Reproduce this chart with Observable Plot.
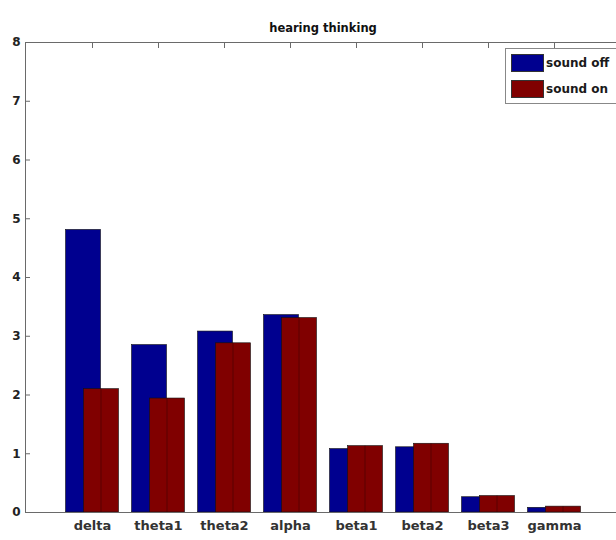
<!DOCTYPE html>
<html>
<head>
<meta charset="utf-8">
<script src="https://cdn.jsdelivr.net/npm/d3@7"></script>
<script src="https://cdn.jsdelivr.net/npm/@observablehq/plot@0.6"></script>
<style>
  body { margin: 0; background: #fff; }
  #wrap { position: relative; width: 616px; height: 540px; overflow: hidden; background: #fff; }
  .legend { position: absolute; left: 505px; top: 48px; width: 125px; height: 54px; border: 1px solid #888; background: #fff;
            font-family: "DejaVu Sans", sans-serif; font-size: 12px; font-weight: bold; color: #1a1a1a; }
  .legend .row { position: absolute; left: 5px; height: 18px; display: flex; align-items: center; }
  .legend .sw { width: 33px; height: 18px; margin-right: 2px; box-sizing: border-box; border: 1px solid #333; }
</style>
</head>
<body>
<div id="wrap"></div>
<script>
const categories = ["delta", "theta1", "theta2", "alpha", "beta1", "beta2", "beta3", "gamma"];
const soundOff = [4.81, 2.85, 3.08, 3.36, 1.08, 1.11, 0.26, 0.08];
const soundOn  = [2.10, 1.94, 2.88, 3.31, 1.13, 1.17, 0.28, 0.10];
const seriesNames = ["sound off", "sound on"];
const seriesColors = ["#00008F", "#800000"];
const yTicks = [0, 1, 2, 3, 4, 5, 6, 7, 8];
const title = "hearing thinking";

const rows = categories.map((c, i) => ({cat: c, off: soundOff[i], on: soundOn[i]}));

const chart = Plot.plot({
  width: 616,
  height: 540,
  marginLeft: 25,
  marginRight: -4,
  marginTop: 42,
  marginBottom: 28,
  style: {fontFamily: "DejaVu Sans, sans-serif", fontSize: "13px", fontWeight: "bold", color: "#222", background: "#fff"},
  x: {domain: categories, paddingInner: 0, paddingOuter: 0.5, label: null},
  y: {domain: [0, 8], ticks: yTicks, label: null},
  marks: [
    Plot.barY(rows, {x: "cat", y: "off", fill: seriesColors[0], stroke: "#111", strokeWidth: 0.6, insetLeft: 15.5, insetRight: 15.5, dx: -9}),
    Plot.barY(rows, {x: "cat", y: "on", fill: seriesColors[1], stroke: "#111", strokeWidth: 0.6, insetLeft: 15.5, insetRight: 15.5, dx: 9}),
    Plot.ruleX(rows, {x: "cat", y1: 0, y2: "on", dx: 8.5, stroke: "#3a0000", strokeOpacity: 0.55}),
    Plot.frame({stroke: "#6a6a6a"}),
    Plot.axisY({anchor: "left", ticks: yTicks, tickSize: -5, tickPadding: 10, stroke: "#6a6a6a", fill: "#222", fontSize: 12, label: null}),
    Plot.axisY({anchor: "right", ticks: yTicks, tickSize: -5, tickFormat: () => "", stroke: "#6a6a6a", label: null}),
    Plot.axisX({anchor: "bottom", tickSize: 0, tickPadding: 8, fill: "#333", fontSize: 13, label: null}),
    Plot.axisX({anchor: "top", tickSize: -5, tickFormat: () => "", stroke: "#6a6a6a", label: null}),
    Plot.text([title], {text: d => d, frameAnchor: "top", dy: -19, fontSize: 11.5, fill: "#111"})
  ]
});

const wrap = document.getElementById("wrap");
wrap.appendChild(chart);

const legend = document.createElement("div");
legend.className = "legend";
seriesNames.forEach((name, i) => {
  const row = document.createElement("div");
  row.className = "row";
  row.style.top = (5 + i * 26) + "px";
  const sw = document.createElement("div");
  sw.className = "sw";
  sw.style.background = seriesColors[i];
  const t = document.createElement("span");
  t.textContent = name;
  row.appendChild(sw);
  row.appendChild(t);
  legend.appendChild(row);
});
wrap.appendChild(legend);
</script>
</body>
</html>
